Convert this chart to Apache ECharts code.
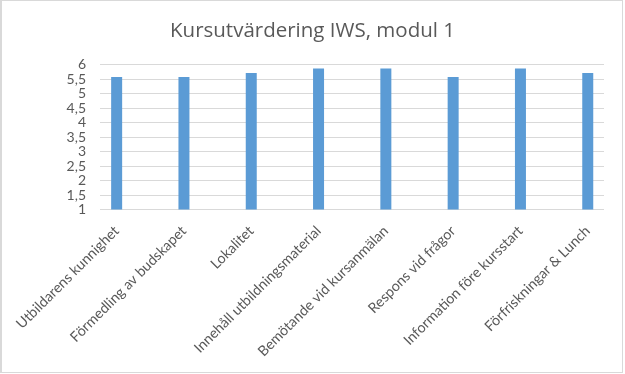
<!DOCTYPE html>
<html>
<head>
<meta charset="utf-8">
<script src="https://cdn.jsdelivr.net/npm/echarts@6/dist/echarts.min.js"></script>
<style>
html,body{margin:0;padding:0;background:#fff;}
#c{width:625px;height:374px;}
#frame{position:absolute;left:0;top:0;width:620px;height:371px;border:1px solid #d9d9d9;border-left-width:2px;pointer-events:none;}
</style>
</head>
<body>
<div id="c"></div>
<div id="frame"></div>
<script>
var titleText = 'Kursutvärdering IWS, modul 1';
var categories = ['Utbildarens kunnighet','Förmedling av budskapet','Lokalitet','Innehåll utbildningsmaterial','Bemötande vid kursanmälan','Respons vid frågor','Information före kursstart','Förfriskningar & Lunch'];
var values = [5.57, 5.57, 5.71, 5.86, 5.86, 5.57, 5.86, 5.71];
var yMin = 1, yMax = 6, yStep = 0.5;

var font = 'Lato';
var chart = echarts.init(document.getElementById('c'));
chart.setOption({
  animation: false,
  title: {
    text: titleText, left: 'center', top: 16,
    textStyle: {fontFamily: 'Open Sans', fontSize: 20.5, fontWeight: 'normal', color: '#595959'}
  },
  grid: [
    {left: 100, top: 64.5, width: 504, height: 145},
    {left: 83, top: 64.5, width: 538.4, height: 145}
  ],
  xAxis: [
    {gridIndex: 0, type: 'category', data: [''], show: false},
    {gridIndex: 1, type: 'category', data: categories,
     axisLine: {show: false}, axisTick: {show: false},
     axisLabel: {interval: 0, rotate: 45, margin: 19, fontFamily: font, fontSize: 14.3, color: '#595959'}}
  ],
  yAxis: [
    {gridIndex: 0, type: 'value', min: yMin, max: yMax, interval: yStep,
     axisLine: {show: false}, axisTick: {show: false},
     axisLabel: {margin: 14, fontFamily: font, fontSize: 14, color: '#595959',
       formatter: function (v) { return String(v).replace('.', ','); }},
     splitLine: {lineStyle: {color: '#d9d9d9', width: 1}}},
    {gridIndex: 1, type: 'value', min: yMin, max: yMax, interval: yStep, show: false, splitLine: {show: false}}
  ],
  series: [{
    type: 'bar', xAxisIndex: 1, yAxisIndex: 1, data: values, barWidth: 11,
    itemStyle: {color: '#5b9bd5'}
  }]
});
</script>
</body>
</html>
